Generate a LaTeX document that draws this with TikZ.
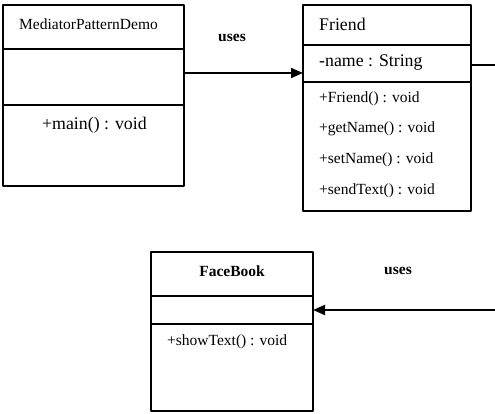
\documentclass[tikz,border=0pt]{standalone}
\usepackage{fontspec}
\setmainfont{Liberation Serif}
\usetikzlibrary{arrows.meta}

\begin{document}
\begin{tikzpicture}[x=1pt, y=-1pt, line join=round,
  part/.style={draw, line width=1.4pt, anchor=north west, inner sep=0pt, outer sep=0pt},
  member/.style={anchor=west, inner sep=0pt, font=\fontsize{15.5}{18}\selectfont},
  bigmember/.style={member, font=\fontsize{17.8}{20}\selectfont},
  uses/.style={-{Triangle[length=12pt,width=10pt]}, line width=1.8pt},
  label/.style={inner sep=0pt, font=\fontsize{15.5}{18}\selectfont\bfseries}]

  % Fix the page to the size of the reference
  \useasboundingbox (0,0) rectangle (495,414);

  % MediatorPatternDemo class
  \node[part, minimum width=181pt, minimum height=44pt] (demo-head) at (3,5) {};
  \node[part, minimum width=181pt, minimum height=56pt] (demo-attr) at (demo-head.south west) {};
  \node[part, minimum width=181pt, minimum height=81pt] (demo-ops) at (demo-attr.south west) {};
  \node[member] (demo-title) at (19,24) {MediatorPatternDemo};
  \node[bigmember] (demo-main) at (42,125) {+main() : void};

  % Friend class
  \node[part, minimum width=168pt, minimum height=40pt] (friend-head) at (303,5) {};
  \node[part, minimum width=168pt, minimum height=37pt] (friend-attr) at (friend-head.south west) {};
  \node[part, minimum width=168pt, minimum height=129pt] (friend-ops) at (friend-attr.south west) {};
  \node[bigmember] (friend-title) at (319,24) {Friend};
  \node[bigmember] (friend-name) at (319,63) {-name : String};
  \node[member] (friend-ctor) at (319,99) {+Friend() : void};
  \node[member] (friend-get) at (319,129) {+getName() : void};
  \node[member] (friend-set) at (319,160) {+setName() : void};
  \node[member] (friend-send) at (319,191) {+sendText() : void};

  % FaceBook class
  \node[part, minimum width=162pt, minimum height=44pt] (face-head) at (151,252) {};
  \node[part, minimum width=162pt, minimum height=28pt] (face-attr) at (face-head.south west) {};
  \node[part, minimum width=162pt, minimum height=87pt] (face-ops) at (face-attr.south west) {};
  \node[label] (face-title) at (232,271) {FaceBook};
  \node[member] (face-show) at (167,342) {+showText() : void};

  % Free ends at the right edge
  \coordinate (edge-top) at (495,65);
  \coordinate (edge-bottom) at (495,310);

  % Associations
  \draw[uses] ([yshift=4pt]demo-attr.east) -- ([yshift=4pt]demo-attr.east -| friend-attr.west);
  \node[label] (uses-top) at (232,38) {uses};
  \draw[line width=1.8pt] (friend-attr.east |- edge-top) -- (edge-top);
  \draw[uses] (edge-bottom) -- (face-attr.east);
  \node[label] (uses-bottom) at (398,271) {uses};

\end{tikzpicture}
\end{document}
